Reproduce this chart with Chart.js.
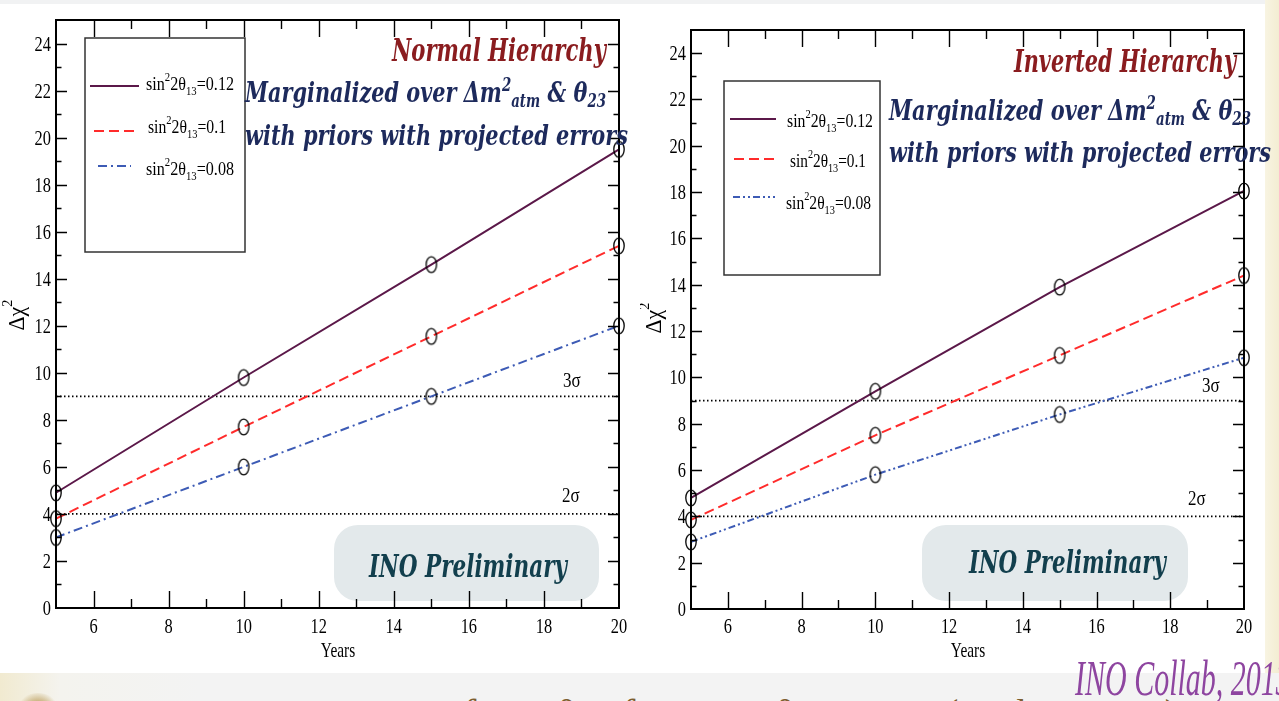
<!DOCTYPE html>
<html>
<head>
<meta charset="utf-8">
<script src="https://cdn.jsdelivr.net/npm/chart.js@4.4.1/dist/chart.umd.min.js"></script>
<style>
  html, body { margin: 0; padding: 0; }
  body { width: 1279px; height: 701px; position: relative; overflow: hidden; background: #fff; }
  .topband { position: absolute; left: 0; top: 0; width: 1279px; height: 4px; background: #f1f2f3; }
  .rightstrip { position: absolute; left: 1265px; top: 0; width: 14px; height: 701px;
    background: linear-gradient(90deg, #f8f4e2, #f3edd2); }
  .bottomband { position: absolute; left: 0; top: 673px; width: 1279px; height: 28px; overflow: hidden;
    background: linear-gradient(90deg, #f1ead0 0px, #f4f3ee 60px, #f3f3f3 200px, #f3f3f3 100%); }
  .icon { position: absolute; left: 18px; top: 20px; width: 40px; height: 26px; border-radius: 50% 50% 0 0;
    background: radial-gradient(ellipse at 50% 80%, #b4964a 0%, #c8b07a 40%, rgba(240,234,214,0) 75%); }
  .caption { position: absolute; left: 112px; top: 17px; white-space: nowrap; color: #7d5e2f;
    font: 40px "Liberation Serif", serif; letter-spacing: 2px; }
  .collab { position: absolute; left: 1075px; top: 653px; white-space: nowrap; color: #8e45a0;
    font: italic 50px/50px "Liberation Serif", serif; transform: scaleX(0.6); transform-origin: 0 0; }
  canvas { position: absolute; top: 0; }
  #nh { left: 0; }
  #ih { left: 640px; }
</style>
</head>
<body>
<div class="topband"></div>
<div class="rightstrip"></div>
<div class="bottomband">
  <div class="icon"></div>
  <div class="caption">Octant sensitivity of sin²θ₂₃ for sin²2θ₁₃ = 0.1 (50 kt ICAL)</div>
</div>
<canvas id="nh" width="640" height="672"></canvas>
<canvas id="ih" width="639" height="672"></canvas>
<div class="collab">INO Collab, 2013</div>

<script>
// exposure in years
const years = [5, 10, 15, 20];

// Δχ² for normal hierarchy
const nhChi012 = [4.9, 9.8, 14.6, 19.5];
const nhChi010 = [3.8, 7.7, 11.55, 15.4];
const nhChi008 = [3.0, 6.0, 9.0, 12.0];

// Δχ² for inverted hierarchy
const ihChi012 = [4.8, 9.4, 13.9, 18.05];
const ihChi010 = [3.85, 7.5, 10.95, 14.4];
const ihChi008 = [2.9, 5.8, 8.4, 10.85];

const seriesNames = ["0.12", "0.1", "0.08"];
const sigmaLevels = [9, 4];
const sigmaLabels = ["3σ", "2σ"];

const xTicks = [6, 8, 10, 12, 14, 16, 18, 20];
const yTicks = [0, 2, 4, 6, 8, 10, 12, 14, 16, 18, 20, 22, 24];

const PURPLE = "#5b1849";
const RED = "#ff2b2b";
const BLUE = "#3d5bb5";
const SERIF = '"Liberation Serif", serif';
const TITLE = '"DejaVu Serif", serif';

// open ellipse marker
function ringMarker() {
  const c = document.createElement("canvas");
  c.width = 14; c.height = 20;
  const g = c.getContext("2d");
  g.strokeStyle = "#000";
  g.lineWidth = 1.3;
  g.beginPath();
  g.ellipse(7, 10, 5.2, 7.8, 0, 0, Math.PI * 2);
  g.stroke();
  return c;
}
const ring = ringMarker();

// text made of pieces (sub/superscripts), squeezed horizontally by sx
function richWidth(ctx, parts) {
  let w = 0;
  parts.forEach(p => { ctx.font = p.font; w += ctx.measureText(p.t).width; });
  return w;
}
function drawRich(ctx, parts, x, y, sx, align, color) {
  const w = richWidth(ctx, parts);
  let cx = align === "right" ? -w : align === "center" ? -w / 2 : 0;
  ctx.save();
  ctx.translate(x, y);
  ctx.scale(sx, 1);
  ctx.fillStyle = color || "#000";
  ctx.textAlign = "left";
  ctx.textBaseline = "alphabetic";
  parts.forEach(p => {
    ctx.font = p.font;
    ctx.fillText(p.t, cx, p.dy || 0);
    cx += ctx.measureText(p.t).width;
  });
  ctx.restore();
}
function fitRich(ctx, parts, x0, x1, y, color) {
  const sx = (x1 - x0) / richWidth(ctx, parts);
  drawRich(ctx, parts, x0, y, sx, "left", color);
}

function legendText(val) {
  const f = "18px " + SERIF, s = "12px " + SERIF;
  return [
    { t: "sin", font: f }, { t: "2", font: s, dy: -9 }, { t: "2θ", font: f },
    { t: "13", font: s, dy: 5 }, { t: "=" + val, font: f }
  ];
}

function line(ys) {
  return years.map((x, i) => ({ x: x, y: ys[i] }));
}

function decor(L) {
  return {
    id: "decor",
    beforeDatasetsDraw(chart) {
      const ctx = chart.ctx;
      // "INO Preliminary" badge
      const b = L.badge;
      ctx.save();
      ctx.fillStyle = "#e3e9eb";
      ctx.beginPath();
      ctx.roundRect(b.x0, b.y0, b.x1 - b.x0, b.y1 - b.y0, 24);
      ctx.fill();
      ctx.restore();
      fitRich(ctx, [{ t: "INO Preliminary", font: "italic bold 32px " + TITLE }],
        b.tx0, b.tx1, b.ty, "#123f4d");
    },
    afterDatasetsDraw(chart) {
      const ctx = chart.ctx;
      const a = chart.chartArea;
      const xs = chart.scales.x, ys = chart.scales.y;

      // frame and inward ticks on all four sides
      ctx.save();
      ctx.strokeStyle = "#000";
      ctx.lineWidth = 1.4;
      ctx.beginPath();
      for (let v = 1; v <= 24; v++) {
        const py = Math.round(ys.getPixelForValue(v)) + 0.5;
        const len = v % 2 === 0 ? 11 : 5.5;
        ctx.moveTo(a.left, py); ctx.lineTo(a.left + len, py);
        ctx.moveTo(a.right, py); ctx.lineTo(a.right - len, py);
      }
      for (let v = 6; v < 20; v++) {
        const px = Math.round(xs.getPixelForValue(v)) + 0.5;
        const len = v % 2 === 0 ? 17 : 9;
        ctx.moveTo(px, a.bottom); ctx.lineTo(px, a.bottom - len);
        ctx.moveTo(px, a.top); ctx.lineTo(px, a.top + len);
      }
      ctx.stroke();
      ctx.lineWidth = 2;
      ctx.strokeRect(a.left, a.top, a.right - a.left, a.bottom - a.top);
      ctx.restore();

      // tick labels
      yTicks.forEach(v => {
        drawRich(ctx, [{ t: String(v), font: "21px " + SERIF }],
          a.left - 5, ys.getPixelForValue(v) + 7, 0.78, "right");
      });
      xTicks.forEach(v => {
        drawRich(ctx, [{ t: String(v), font: "21px " + SERIF }],
          xs.getPixelForValue(v), 633, 0.78, "center");
      });

      // axis titles
      drawRich(ctx, [{ t: "Years", font: "22px " + SERIF }], L.yearsX, 657, 0.7, "center");
      ctx.save();
      ctx.translate(L.chiX, L.chiY);
      ctx.rotate(-Math.PI / 2);
      drawRich(ctx, [
        { t: "Δχ", font: "23px " + SERIF }, { t: "2", font: "15px " + SERIF, dy: -12 }
      ], 0, 0, 0.95, "center");
      ctx.restore();

      // sigma labels
      sigmaLabels.forEach((s, i) => {
        drawRich(ctx, [{ t: s, font: "20px " + SERIF }], L.sigma[i].x, L.sigma[i].y, 0.85, "left");
      });

      // legend box
      const g = L.legend;
      ctx.save();
      ctx.fillStyle = "#fff";
      ctx.fillRect(g.x0, g.y0, g.x1 - g.x0, g.y1 - g.y0);
      ctx.strokeStyle = "#333";
      ctx.lineWidth = 1.5;
      ctx.strokeRect(g.x0, g.y0, g.x1 - g.x0, g.y1 - g.y0);
      ctx.restore();
      chart.data.datasets.slice(0, 3).forEach((ds, i) => {
        const e = g.rows[i];
        ctx.save();
        ctx.strokeStyle = ds.borderColor;
        ctx.lineWidth = 2;
        ctx.setLineDash(ds.borderDash || []);
        ctx.beginPath();
        ctx.moveTo(e.l0, e.ly); ctx.lineTo(e.l1, e.ly);
        ctx.stroke();
        ctx.restore();
        fitRich(ctx, legendText(seriesNames[i]), e.t0, e.t1, e.tb, "#000");
      });

      // titles
      const t = L.titles;
      fitRich(ctx, [{ t: t.name, font: "italic bold 31px " + TITLE }], t.n0, t.n1, t.ny, "#8a1c1f");
      const big = "italic bold 28px " + TITLE, small = "italic bold 18px " + TITLE;
      fitRich(ctx, [
        { t: "Marginalized over Δm", font: big }, { t: "2", font: small, dy: -11 },
        { t: "atm", font: small, dy: 5 }, { t: " & θ", font: big }, { t: "23", font: small, dy: 5 }
      ], t.m0, t.m1, t.my, "#1d2a5c");
      fitRich(ctx, [{ t: "with priors with projected errors", font: big }], t.m0, t.w1, t.wy, "#1d2a5c");
    }
  };
}

function makeChart(id, series, dashes, pad, L) {
  const datasets = series.map((ys, i) => ({
    label: seriesNames[i],
    data: line(ys),
    borderColor: [PURPLE, RED, BLUE][i],
    borderDash: dashes[i],
    borderWidth: 2,
    pointStyle: ring,
    pointRadius: 8,
    showLine: true,
    clip: false,
    order: 1
  }));
  sigmaLevels.forEach(level => {
    datasets.push({
      label: "level " + level,
      data: [{ x: 5, y: level }, { x: 20, y: level }],
      borderColor: "#000",
      borderDash: [1.5, 2.5],
      borderWidth: 1.8,
      pointRadius: 0,
      showLine: true,
      order: 5
    });
  });

  return new Chart(document.getElementById(id), {
    type: "scatter",
    data: { datasets: datasets },
    options: {
      responsive: false,
      animation: false,
      layout: { padding: pad },
      plugins: { legend: { display: false }, tooltip: { enabled: false } },
      scales: {
        x: { type: "linear", min: 5, max: 20, display: false },
        y: { type: "linear", min: 0, max: 25, display: false }
      }
    },
    plugins: [decor(L)]
  });
}

makeChart("nh", [nhChi012, nhChi010, nhChi008],
  [[], [10, 5], [9, 4, 2, 4]],
  { left: 56, right: 21, top: 20, bottom: 64 },
  {
    badge: { x0: 334, x1: 599, y0: 525, y1: 601, tx0: 369, tx1: 567, ty: 577 },
    yearsX: 338, chiX: 24, chiY: 315,
    sigma: [{ x: 563, y: 387 }, { x: 562, y: 502 }],
    legend: {
      x0: 85, x1: 245, y0: 38, y1: 252,
      rows: [
        { l0: 90, l1: 139, ly: 86, t0: 146, t1: 234, tb: 90 },
        { l0: 94, l1: 136, ly: 131, t0: 148, t1: 226, tb: 133 },
        { l0: 98, l1: 131, ly: 166, t0: 146, t1: 234, tb: 175 }
      ]
    },
    titles: { name: "Normal Hierarchy", n0: 392, n1: 606, ny: 61, m0: 245, m1: 606, my: 102, w1: 628, wy: 145 }
  });

makeChart("ih", [ihChi012, ihChi010, ihChi008],
  [[], [10, 5], [7, 3, 2, 3, 2, 3]],
  { left: 51, right: 35, top: 30, bottom: 63 },
  {
    badge: { x0: 282, x1: 548, y0: 525, y1: 601, tx0: 329, tx1: 526, ty: 573 },
    yearsX: 328, chiX: 21, chiY: 318,
    sigma: [{ x: 562, y: 392 }, { x: 548, y: 505 }],
    legend: {
      x0: 84, x1: 240, y0: 81, y1: 275,
      rows: [
        { l0: 90, l1: 136, ly: 119, t0: 147, t1: 233, tb: 127 },
        { l0: 94, l1: 136, ly: 159, t0: 150, t1: 226, tb: 167 },
        { l0: 93, l1: 135, ly: 197, t0: 146, t1: 231, tb: 209 }
      ]
    },
    titles: { name: "Inverted Hierarchy", n0: 374, n1: 596, ny: 72, m0: 249, m1: 611, my: 120, w1: 631, wy: 162 }
  });
</script>
</body>
</html>
